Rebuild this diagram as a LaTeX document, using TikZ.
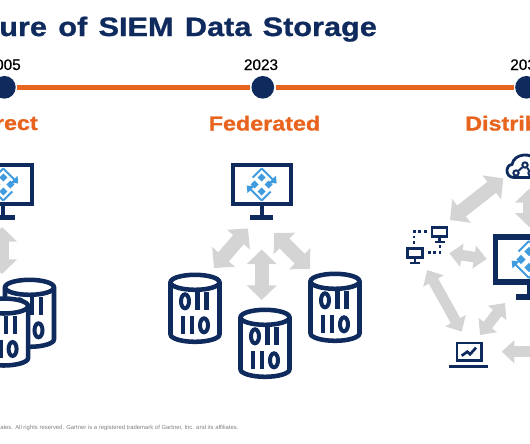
\documentclass[tikz,border=0pt]{standalone}
\usepackage{fontspec}
\setmainfont{Liberation Sans}[BoldFeatures={FakeStretch=1.15,FakeBold=1}]
\newfontfamily\yearfont{Liberation Sans}[FakeBold=0.6]
\usetikzlibrary{arrows.meta, positioning}
\definecolor{navy}{HTML}{0F2A5C}
\definecolor{flame}{HTML}{E8641E}
\definecolor{sky}{HTML}{3F9BDD}
\definecolor{ash}{HTML}{D4D4D4}
\newcommand{\px}[1]{\fontsize{#1}{#1}\selectfont}
\tikzset{
    x=0.75pt, y=-0.75pt,
    dot/.style={circle, fill=navy, minimum size=17pt, inner sep=0pt},
    rail/.style={draw=flame, line width=3.75pt, shorten >=1pt, shorten <=1pt},
    yearlabel/.style={font=\px{11.5}\yearfont, inner sep=0pt, anchor=base},
    eralabel/.style={font=\px{15.2}\bfseries, text=flame, inner sep=0pt, anchor=base},
    blockarrow/.style={draw=ash, line width=10.5pt, {Triangle[length=11pt, width=22pt]}-{Triangle[length=11pt, width=22pt]}},
    thinarrow/.style={draw=ash, line width=8pt, {Triangle[length=9.5pt, width=17pt]}-{Triangle[length=9.5pt, width=17pt]}},
    netnode/.style={circle, draw=navy, fill=white, line width=1.5pt, minimum size=4pt, inner sep=0pt},
    pics/display/.style={code={
        \draw[navy, line width=#1, fill=white] (-29,-19.5) rectangle (29,19.5);
        \fill[navy] (-2,21) rectangle (2,31);
        \fill[navy] (-11.5,30) rectangle (11.5,35);
        % diamond of dots
        \draw[sky, line width=1.5pt] (-9,-7) -- (0,-16);
        \draw[sky, line width=1.5pt] (9,7) -- (0,16);
        \foreach \a/\b in {0/-7, -7/0, 7/0, 0/7}
            \fill[sky] (\a,\b-4) -- (\a+4,\b) -- (\a,\b+4) -- (\a-4,\b) -- cycle;
        \draw[sky, line width=1.5pt, -{Triangle[length=4.5pt, width=7pt]}] (0,16) -- (-15,1);
        \draw[sky, line width=1.5pt, -{Triangle[length=4.5pt, width=7pt]}] (0,-16) -- (15,-1);
    }},
    pics/binary/.style={code={
        \draw[navy, line width=3.4pt, fill=white] (-24.5,-26) -- (-24.5,26)
            arc[start angle=180, end angle=0, x radius=24.5, y radius=7.5] -- (24.5,-26)
            arc[start angle=0, end angle=-180, x radius=24.5, y radius=7.5] -- cycle;
        \draw[navy, line width=3.4pt] (-24.5,-26) arc[start angle=180, end angle=0, x radius=24.5, y radius=7.5];
        % first row 011, second row 110
        \draw[navy, line width=3pt] (-10,-7) ellipse[x radius=4, y radius=7];
        \draw[navy, line width=3.4pt] (2.5,-16) -- (2.5,2) (11.5,-16) -- (11.5,2);
        \draw[navy, line width=3.4pt] (-12,8) -- (-12,26) (-3,8) -- (-3,26);
        \draw[navy, line width=3pt] (9,17) ellipse[x radius=4, y radius=7];
    }},
    pics/minidisplay/.style={code={
        \draw[navy, line width=2.2pt, fill=white] (-7.5,-4.5) rectangle (7.5,4.5);
        \fill[navy] (-1.2,5) rectangle (1.2,10);
        \fill[navy] (-5,8.5) rectangle (5,11);
    }}
}
\begin{document}
\begin{tikzpicture}
    \useasboundingbox (0,0) rectangle (530,443);
    \clip (0,0) rectangle (530,443);
    \node[font=\px{20}\bfseries, text=navy, inner sep=0pt, anchor=base west] (heading) at (-1,36) {ure\hspace{8.5pt}of\hspace{8.5pt}SIEM\hspace{8.5pt}Data\hspace{8.5pt}Storage};
    % timeline
    \node[dot] (d1) at (4.4,87.3) {};
    \node[dot] (d2) at (262.8,87.3) {};
    \node[dot] (d3) at (526.5,87.3) {};
    \draw[rail] (d1) -- (d2);
    \draw[rail] (d2) -- (d3);
    \node[yearlabel, anchor=base east] (y1) at (21,70) {005};
    \node[yearlabel] (y2) at (261,70) {2023};
    \node[yearlabel, anchor=base west] (y3) at (510,70) {203};
    \node[eralabel, anchor=base east] (e1) at (38,130) {rect};
    \node[eralabel] (e2) at (264.5,130.5) {Federated};
    \node[eralabel, anchor=base west] (e3) at (465,130.5) {Distrib};
    % gray arrows, first group
    \coordinate (a1t) at (2,227);
    \coordinate (a1b) at (2,274);
    \draw[blockarrow] (a1t) -- (a1b);
    % second group
    \coordinate (b1a) at (248,228.5);
    \coordinate (b1b) at (214,268);
    \coordinate (b2a) at (261.7,249.5);
    \coordinate (b2b) at (261.7,300);
    \coordinate (b3a) at (274,233);
    \coordinate (b3b) at (310,269);
    \draw[blockarrow] (b1a) -- (b1b);
    \draw[blockarrow] (b2a) -- (b2b);
    \draw[blockarrow] (b3a) -- (b3b);
    % third group
    \coordinate (c1a) at (503.3,178.3);
    \coordinate (c1b) at (450,220);
    \coordinate (c2a) at (530,188);
    \coordinate (c2b) at (530,227.7);
    \coordinate (c3a) at (449.3,253.3);
    \coordinate (c3b) at (486.7,259);
    \coordinate (c4a) at (427.3,270);
    \coordinate (c4b) at (461.7,331.7);
    \coordinate (c5a) at (505,303);
    \coordinate (c5b) at (480,335);
    \coordinate (c6a) at (501.7,351.7);
    \coordinate (c6b) at (570,351.7);
    \foreach \p/\q in {c1a/c1b, c2a/c2b}
        \draw[blockarrow] (\p) -- (\q);
    \foreach \p/\q in {c3a/c3b, c4a/c4b, c5a/c5b, c6a/c6b}
        \draw[thinarrow] (\p) -- (\q);
    % screens
    \pic at (3.3,184.5) {display=3pt};
    \pic at (261.7,184.5) {display=3pt};
    \pic[scale=1.155] at (529,259.5) {display=4.2pt};
    % storage
    \pic at (29.5,313.3) {binary};
    \pic at (3.6,332) {binary};
    \pic at (195,308.3) {binary};
    \pic at (265,343.3) {binary};
    \pic at (335,307.3) {binary};
    % small network
    \pic at (439.5,232) {minidisplay};
    \pic at (415,253) {minidisplay};
    \coordinate (n1) at (427,231.7);
    \coordinate (n2) at (414,231.7);
    \coordinate (n3) at (414,244);
    \coordinate (n4) at (440,245);
    \coordinate (n5) at (440,252.3);
    \coordinate (n6) at (427,252.3);
    \draw[navy, line width=2.2pt, dash pattern=on 2.2pt off 2pt] (n1) -- (n2) -- (n3);
    \draw[navy, line width=2.2pt, dash pattern=on 2.2pt off 2pt] (n4) -- (n5) -- (n6);
    % laptop
    \draw[navy, line width=2pt] (457,343) rectangle (481.5,360.5);
    \draw[navy, line width=2pt] (449.3,366.3) -- (488.3,366.3);
    \draw[navy, line width=2pt] (461.7,355.7) -- (467.3,351.7) -- (470,354.3) -- (476,347.7);
    % cloud
    \draw[navy, line width=2.1pt] (540,177.5) -- (514,177.5) .. controls (505,177.5) and (505,165) .. (512,164.5) .. controls (514,153) and (532,152) .. (537,161);
    \node[netnode] (p1) at (525,165) {};
    \node[netnode] (p2) at (516,173) {};
    \node[netnode] (p3) at (531,173) {};
    \draw[navy, line width=1.5pt] (p1) -- (p2);
    \draw[navy, line width=1.5pt] (p1) -- (p3);
    \node[font=\px{4.43}, text=gray, inner sep=0pt, anchor=base west] (rights) at (0,429.5) {ates. All rights reserved. Gartner is a registered trademark of Gartner, Inc. and its affiliates.};
\end{tikzpicture}
\end{document}
